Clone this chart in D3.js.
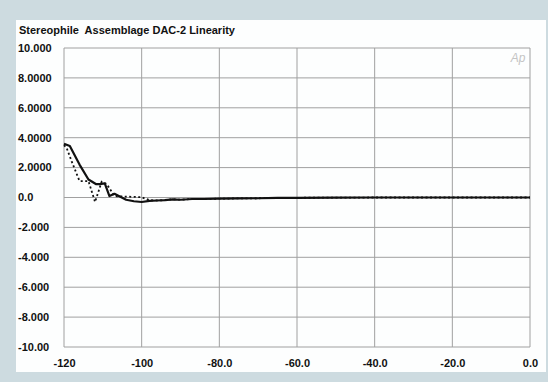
<!DOCTYPE html>
<html>
<head>
<meta charset="utf-8">
<script src="https://cdn.jsdelivr.net/npm/d3@7"></script>
<style>
    body { margin: 0; background: #cddbe0; }
    svg { display: block; }
    .tick text, .lbl { font-family: "Liberation Sans", Arial, sans-serif; font-weight: bold; fill: #111; }
</style>
</head>
<body>
<div id="chart"></div>
<script>
// chart values
const xTicks = [-120, -100, -80, -60, -40, -20, 0];
const xTickLabels = ["-120", "-100", "-80.0", "-60.0", "-40.0", "-20.0", "0.0"];
const yTicks = [10, 8, 6, 4, 2, 0, -2, -4, -6, -8, -10];
const yTickLabels = ["10.000", "8.0000", "6.0000", "4.0000", "2.0000", "0.0",
    "-2.000", "-4.000", "-6.000", "-8.000", "-10.00"];

// solid trace: level (dB) / error (dB)
const solidLevel = [-120, -118.5, -116, -113.7, -111.8, -110.8, -109.5, -108.3, -107, -105.5,
    -104, -102, -100, -98, -96, -94, -92, -90, -87, -84, -80, -75, -70, -65, -60, -50, -40, -20, 0];
const solidError = [3.6, 3.45, 2.2, 1.2, 0.9, 0.9, 0.95, 0.1, 0.25, 0.05,
    -0.15, -0.25, -0.3, -0.22, -0.2, -0.18, -0.12, -0.15, -0.1, -0.1, -0.08, -0.06, -0.05, -0.03, -0.02, -0.01, 0, 0, 0];

// dotted trace
const dotLevel = [-120, -119.3, -118, -116, -113.7, -112, -110.3, -109, -107, -106, -100, -98,
    -96, -94, -92, -90, -87, -84, -80, -75, -70, -65, -60, -50, -40, -20, 0];
const dotError = [3.5, 3.3, 2.4, 1.1, 1.1, -0.3, 1.05, 0.9, 0.1, 0.08, 0.02, -0.18,
    -0.2, -0.18, -0.12, -0.15, -0.1, -0.1, -0.08, -0.06, -0.05, -0.03, -0.02, -0.01, 0, 0, 0];

const W = 548, H = 382;
const svg = d3.select("#chart").append("svg")
    .attr("width", W)
    .attr("height", H);

// white panel
svg.append("rect")
    .attr("x", 16).attr("y", 20)
    .attr("width", 530).attr("height", 352)
    .attr("fill", "#fdfefe");

const x = d3.scaleLinear().domain([-120, 0]).range([64, 530]);
const y = d3.scaleLinear().domain([-10, 10]).range([347, 48]);

// grid
svg.append("g")
    .selectAll("line.v").data(xTicks).enter().append("line")
    .attr("x1", d => x(d)).attr("x2", d => x(d))
    .attr("y1", y(10)).attr("y2", y(-10))
    .attr("stroke", "#a0a0a0").attr("stroke-width", 1);
svg.append("g")
    .selectAll("line.h").data(yTicks).enter().append("line")
    .attr("x1", x(-120)).attr("x2", x(0))
    .attr("y1", d => y(d)).attr("y2", d => y(d))
    .attr("stroke", "#a0a0a0").attr("stroke-width", 1);

// y axis labels, left aligned
svg.append("g")
    .selectAll("text").data(yTicks).enter().append("text")
    .attr("class", "lbl")
    .attr("x", 18)
    .attr("y", d => y(d))
    .attr("dy", "0.35em")
    .attr("font-size", 11)
    .text((d, i) => yTickLabels[i]);

// x axis labels
svg.append("g")
    .attr("transform", "translate(0," + (y(-10) + 9) + ")")
    .call(d3.axisBottom(x).tickValues(xTicks).tickSize(0)
        .tickFormat((d, i) => xTickLabels[i]))
    .call(g => g.select(".domain").remove())
    .selectAll("text")
    .attr("font-size", 11);

// title
svg.append("text")
    .attr("class", "lbl")
    .attr("x", 19).attr("y", 34)
    .attr("font-size", 11)
    .attr("xml:space", "preserve")
    .text("Stereophile  Assemblage DAC-2 Linearity");

// Ap logo
svg.append("text")
    .attr("x", 518).attr("y", 62)
    .attr("text-anchor", "middle")
    .attr("font-family", "Liberation Sans, Arial, sans-serif")
    .attr("font-style", "italic")
    .attr("font-size", 12)
    .attr("fill", "#c4c4c4")
    .text("Ap");

const line = d3.line()
    .x(d => x(d[0]))
    .y(d => y(d[1]));

svg.append("path")
    .datum(dotLevel.map((v, i) => [v, dotError[i]]))
    .attr("d", line)
    .attr("fill", "none")
    .attr("stroke", "#111")
    .attr("stroke-width", 1.8)
    .attr("stroke-dasharray", "2,2.5");

svg.append("path")
    .datum(solidLevel.map((v, i) => [v, solidError[i]]))
    .attr("d", line)
    .attr("fill", "none")
    .attr("stroke", "#111")
    .attr("stroke-width", 2.2)
    .attr("stroke-linejoin", "round");
</script>
</body>
</html>
